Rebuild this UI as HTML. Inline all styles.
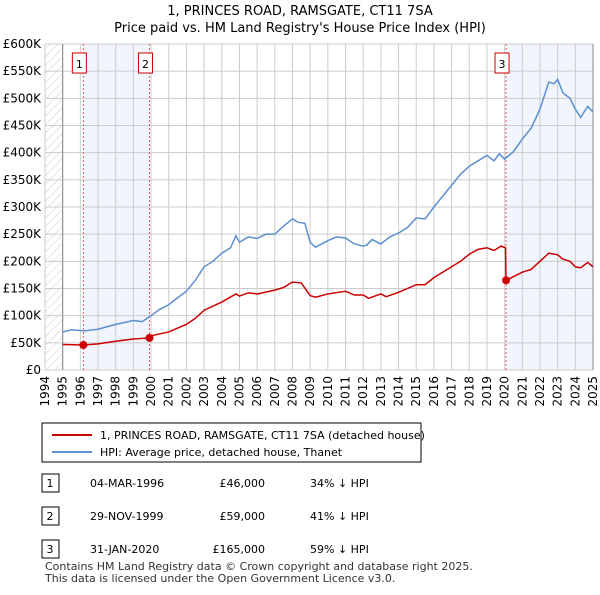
<!DOCTYPE html>
<html><head><meta charset="utf-8"><style>
body{margin:0;background:#fff;font-family:"Liberation Sans","DejaVu Sans",sans-serif;}
svg text{font-family:"DejaVu Sans","Liberation Sans",sans-serif;}
</style></head><body>
<svg width="600" height="590" xmlns="http://www.w3.org/2000/svg">
<defs><pattern id="hatch" width="6" height="6" patternUnits="userSpaceOnUse" patternTransform="rotate(45)"><line x1="0" y1="0" x2="0" y2="6" stroke="#ccc" stroke-width="1"/></pattern></defs>
<text x="300" y="15" text-anchor="middle" font-size="13">1, PRINCES ROAD, RAMSGATE, CT11 7SA</text>
<text x="300" y="32" text-anchor="middle" font-size="13">Price paid vs. HM Land Registry's House Price Index (HPI)</text>
<g id="plot"></g>
<g id="legend">
<rect x="42" y="423" width="379" height="39" fill="#fff" stroke="#000"/>
<line x1="52" y1="435" x2="92" y2="435" stroke="#cc0000" stroke-width="2"/>
<text x="100" y="439" font-size="11">1, PRINCES ROAD, RAMSGATE, CT11 7SA (detached house)</text>
<line x1="52" y1="452" x2="92" y2="452" stroke="#5b8fd0" stroke-width="2"/>
<text x="100" y="456" font-size="11">HPI: Average price, detached house, Thanet</text>
</g>
<g font-size="11">
<rect x="42" y="474" width="17" height="18" fill="#fff" stroke="#000"/><text x="50" y="487" text-anchor="middle">1</text>
<text x="90" y="487">04-MAR-1996</text><text x="265" y="487" text-anchor="end">£46,000</text><text x="310" y="487">34% ↓ HPI</text>
<rect x="42" y="507" width="17" height="18" fill="#fff" stroke="#000"/><text x="50" y="520" text-anchor="middle">2</text>
<text x="90" y="520">29-NOV-1999</text><text x="265" y="520" text-anchor="end">£59,000</text><text x="310" y="520">41% ↓ HPI</text>
<rect x="42" y="540" width="17" height="18" fill="#fff" stroke="#000"/><text x="50" y="553" text-anchor="middle">3</text>
<text x="90" y="553">31-JAN-2020</text><text x="265" y="553" text-anchor="end">£165,000</text><text x="310" y="553">59% ↓ HPI</text>
</g>
<text x="45" y="570" font-size="11" fill="#333">Contains HM Land Registry data © Crown copyright and database right 2025.</text>
<text x="45" y="582" font-size="11" fill="#333">This data is licensed under the Open Government Licence v3.0.</text>
</svg>
<script>
const hpiYears=[1995,1995.5,1996.2,1997,1998,1999,1999.5,2000,2000.5,2001,2001.5,2002,2002.5,2003,2003.5,2004,2004.5,2004.8,2005,2005.5,2006,2006.5,2007,2007.5,2008,2008.3,2008.7,2009,2009.3,2010,2010.5,2011,2011.5,2012,2012.2,2012.5,2013,2013.5,2014,2014.5,2015,2015.5,2016,2016.5,2017,2017.5,2018,2018.5,2019,2019.4,2019.7,2020,2020.5,2021,2021.5,2022,2022.5,2022.8,2023,2023.3,2023.7,2024,2024.3,2024.7,2025];
const hpiValues=[70,74,72,75,84,91,89,100,112,120,133,145,165,190,200,215,225,247,235,245,242,250,250,265,278,272,270,235,226,238,245,243,232,228,230,240,232,245,252,262,280,278,300,320,340,360,375,385,395,385,398,388,402,425,445,480,530,527,535,510,500,480,465,485,475];
const priceYears=[1995,1996.17,1997,1998,1999,1999.91,2000,2001,2002,2002.5,2003,2004,2004.8,2005,2005.5,2006,2007,2007.5,2008,2008.5,2009,2009.3,2010,2011,2011.5,2012,2012.3,2013,2013.3,2014,2015,2015.5,2016,2017,2017.5,2018,2018.5,2019,2019.4,2019.8,2020.05,2020.08,2021,2021.5,2022,2022.5,2023,2023.3,2023.7,2024,2024.3,2024.7,2025];
const priceValues=[47,46,48,53,57,59,63,70,84,95,110,125,140,136,142,140,147,152,162,160,137,134,140,145,138,138,132,140,135,143,157,157,170,190,200,213,222,225,220,228,225,165,180,185,200,215,212,204,200,190,188,198,190];
const saleYears=[1996.17,1999.91,2020.08];
const saleValues=[46,59,165];
const saleLabels=["1","2","3"];
const yTicks=[0,50,100,150,200,250,300,350,400,450,500,550,600];
const xTicks=[1994,1995,1996,1997,1998,1999,2000,2001,2002,2003,2004,2005,2006,2007,2008,2009,2010,2011,2012,2013,2014,2015,2016,2017,2018,2019,2020,2021,2022,2023,2024,2025];
const L=45,R=593,T=44,B=370;
const X=y=>L+(y-1994)/(2025-1994)*(R-L);
const Y=v=>B-v/600*(B-T);
const NS="http://www.w3.org/2000/svg";
const g=document.getElementById('plot');
function mk(t,a){const e=document.createElementNS(NS,t);for(const k in a)e.setAttribute(k,a[k]);g.appendChild(e);return e;}
let e=mk('rect',{x:X(1994),y:T,width:X(1995)-X(1994),height:B-T,fill:'url(#hatch)'});


e=mk('rect',{x:X(saleYears[0]),y:T,width:X(saleYears[1])-X(saleYears[0]),height:B-T,fill:'#eef3fc',opacity:0.8});


e=mk('rect',{x:X(saleYears[2]),y:T,width:X(2025)-X(saleYears[2]),height:B-T,fill:'#eef3fc',opacity:0.8});


yTicks.forEach(v=>{
 let l=mk('line',{x1:L,x2:R,y1:Y(v),y2:Y(v),stroke:'#ccc'});
 
 
 let t=mk('text',{x:L-4,y:Y(v)+4,'text-anchor':'end','font-size':12});
 t.textContent=v===0?'£0':'£'+v+'K';
 
 
});
xTicks.forEach(yr=>{
 let l=mk('line',{x1:X(yr),x2:X(yr),y1:T,y2:B,stroke:'#ccc'});
 
 
 let t=mk('text',{x:0,y:0,'font-size':12,'text-anchor':'end',transform:`translate(${X(yr)+4},${B+6}) rotate(-90)`});
 t.textContent=yr;
 
 
});
e=mk('line',{x1:X(1995),x2:X(1995),y1:T,y2:B,stroke:'#888'});


e=mk('line',{x1:R,x2:R,y1:T,y2:B,stroke:'#888'});


saleYears.forEach((yr,i)=>{
 let l=mk('line',{x1:X(yr),x2:X(yr),y1:T,y2:B,stroke:'#e06060','stroke-dasharray':'2,2'});
 
 
 let r=mk('rect',{x:X(yr)-11,y:T+9,width:14,height:20,fill:'#fff',stroke:'#cc0000'});
 
 
 let t=mk('text',{x:X(yr)-4,y:T+24,'text-anchor':'middle','font-size':11});
 t.textContent=saleLabels[i];
 
 
});
e=mk('polyline',{points:hpiYears.map((y,i)=>X(y)+','+Y(hpiValues[i])).join(' '),fill:'none',stroke:'#5b8fd0','stroke-width':1.5});


e=mk('polyline',{points:priceYears.map((y,i)=>X(y)+','+Y(priceValues[i])).join(' '),fill:'none',stroke:'#cc0000','stroke-width':1.5});


saleYears.forEach((yr,i)=>{
 let c=mk('circle',{cx:X(yr),cy:Y(saleValues[i]),r:4,fill:'#cc0000'});
 
 
});
</script>
</body></html>
